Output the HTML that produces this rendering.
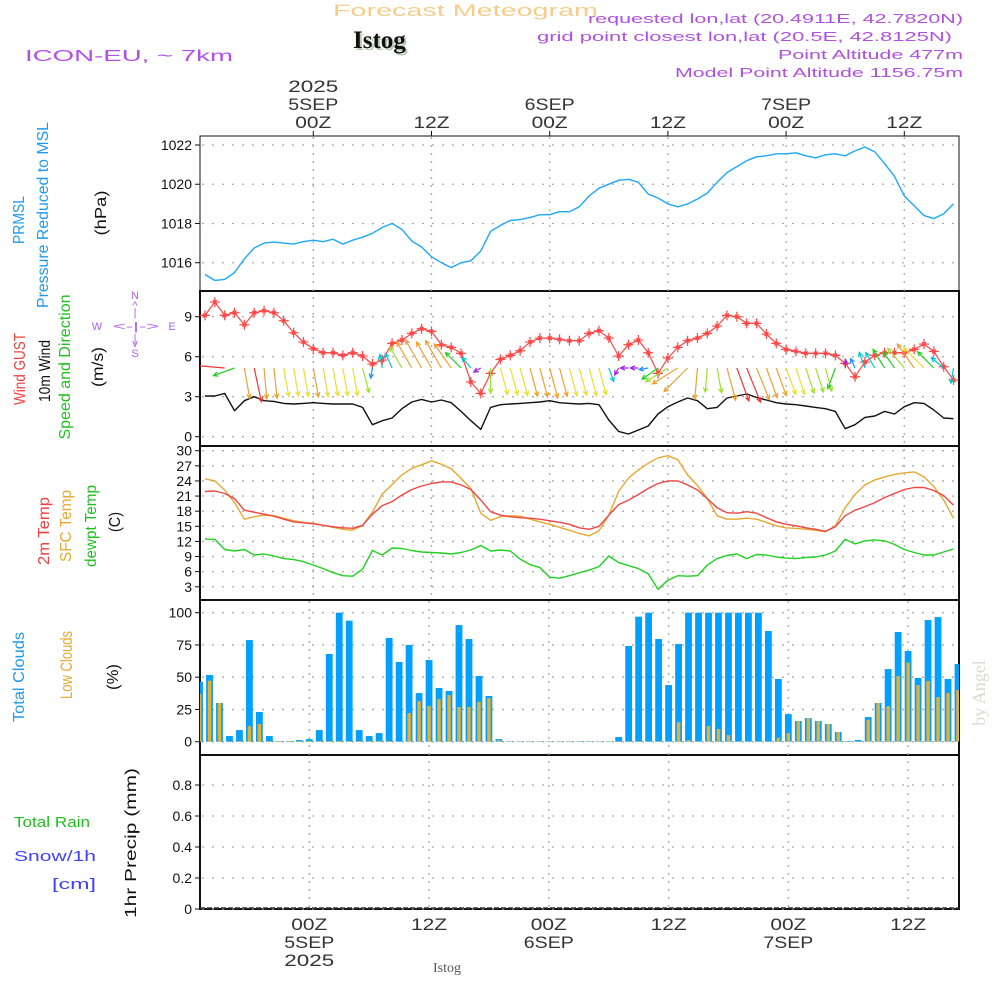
<!DOCTYPE html>
<html><head><meta charset="utf-8">
<style>
html,body{margin:0;padding:0;background:#fff;width:1000px;height:1000px;overflow:hidden}
svg{display:block}
text{font-family:"Liberation Sans",sans-serif}
.nar{font-family:"Liberation Sans Narrow","Liberation Sans",sans-serif}
</style></head>
<body>
<svg id="chart" xmlns="http://www.w3.org/2000/svg" width="1000" height="1000" viewBox="0 0 1000 1000">
<defs>
<clipPath id="clipU"><rect x="200" y="136" width="759" height="465"/></clipPath>
<clipPath id="clipL"><rect x="200" y="600" width="759" height="310"/></clipPath>
</defs>
<text x="333" y="16" font-size="17" fill="#f5cd8c" textLength="265" lengthAdjust="spacingAndGlyphs">Forecast Meteogram</text>
<text x="355" y="50" font-size="25" font-weight="bold" fill="#b9cbb4" style="font-family:'Liberation Serif',serif">Istog</text>
<text x="353" y="48" font-size="25" font-weight="bold" fill="#111" style="font-family:'Liberation Serif',serif">Istog</text>
<text x="25" y="61" font-size="16" fill="#b050e8" textLength="208" lengthAdjust="spacingAndGlyphs">ICON-EU, ~ 7km</text>
<g fill="#b050e0" font-size="13" text-anchor="end">
<text x="963" y="23" textLength="375" lengthAdjust="spacingAndGlyphs">requested lon,lat (20.4911E, 42.7820N)</text>
<text x="952" y="41" textLength="415" lengthAdjust="spacingAndGlyphs">grid point closest lon,lat (20.5E, 42.8125N)</text>
<text x="963" y="59" textLength="185" lengthAdjust="spacingAndGlyphs">Point Altitude 477m</text>
<text x="963" y="77" textLength="288" lengthAdjust="spacingAndGlyphs">Model Point Altitude 1156.75m</text>
</g>
<g id="frames"></g>
<g id="plots"></g>
<g font-size="16" class="nar">
<text transform="translate(24,220) rotate(-90)" text-anchor="middle" fill="#1e9bf0" textLength="48" lengthAdjust="spacingAndGlyphs">PRMSL</text>
<text transform="translate(48,215) rotate(-90)" text-anchor="middle" fill="#1e9bf0" textLength="186" lengthAdjust="spacingAndGlyphs">Pressure Reduced to MSL</text>
<text transform="translate(106,213) rotate(-90)" text-anchor="middle" fill="#111" textLength="45" lengthAdjust="spacingAndGlyphs">(hPa)</text>
<text transform="translate(25,369) rotate(-90)" text-anchor="middle" fill="#f04040" textLength="72" lengthAdjust="spacingAndGlyphs">Wind GUST</text>
<text transform="translate(50,371) rotate(-90)" text-anchor="middle" fill="#111" textLength="62" lengthAdjust="spacingAndGlyphs">10m Wind</text>
<text transform="translate(70,367) rotate(-90)" text-anchor="middle" fill="#20c020" textLength="145" lengthAdjust="spacingAndGlyphs">Speed and Direction</text>
<text transform="translate(103,367) rotate(-90)" text-anchor="middle" fill="#111" textLength="40" lengthAdjust="spacingAndGlyphs">(m/s)</text>
<text transform="translate(49,531) rotate(-90)" text-anchor="middle" fill="#f04040" textLength="68" lengthAdjust="spacingAndGlyphs">2m Temp</text>
<text transform="translate(71,526) rotate(-90)" text-anchor="middle" fill="#e8a830" textLength="72" lengthAdjust="spacingAndGlyphs">SFC Temp</text>
<text transform="translate(96,526) rotate(-90)" text-anchor="middle" fill="#20c020" textLength="82" lengthAdjust="spacingAndGlyphs">dewpt Temp</text>
<text transform="translate(120,522) rotate(-90)" text-anchor="middle" fill="#111" textLength="20" lengthAdjust="spacingAndGlyphs">(C)</text>
<text transform="translate(24,677) rotate(-90)" text-anchor="middle" fill="#1e9bf0" textLength="90" lengthAdjust="spacingAndGlyphs">Total Clouds</text>
<text transform="translate(72,665) rotate(-90)" text-anchor="middle" fill="#e8a830" font-size="17" textLength="68" lengthAdjust="spacingAndGlyphs">Low Clouds</text>
<text transform="translate(118,677) rotate(-90)" text-anchor="middle" fill="#111" textLength="26" lengthAdjust="spacingAndGlyphs">(%)</text>
<text transform="translate(136,843) rotate(-90)" text-anchor="middle" fill="#111" textLength="150" lengthAdjust="spacingAndGlyphs">1hr Precip (mm)</text>
</g>
<text x="14" y="827" font-size="15" fill="#20c020" textLength="76" lengthAdjust="spacingAndGlyphs">Total  Rain</text>
<text x="14" y="861" font-size="15" fill="#4040ff" textLength="82" lengthAdjust="spacingAndGlyphs">Snow/1h</text>
<text x="52" y="889" font-size="15" fill="#4040ff" textLength="44" lengthAdjust="spacingAndGlyphs">[cm]</text>
<g fill="#b060f0" font-size="11" text-anchor="middle">
<text x="135" y="299">N</text><text x="135" y="309">^</text><text x="135" y="316">|</text>
<text x="97" y="330">W</text><text x="136" y="330" textLength="46" lengthAdjust="spacingAndGlyphs">&lt;-|-&gt;</text><text x="172" y="330">E</text>
<text x="135" y="342">|</text><text x="135" y="347">v</text><text x="135" y="357">S</text>
</g>
<text transform="translate(985,693) rotate(-90)" text-anchor="middle" font-size="18" fill="#d4ddd0" style="font-family:'Liberation Serif',serif">by Angel</text>
<text x="447" y="972" text-anchor="middle" font-size="14" fill="#555" style="font-family:'Liberation Serif',serif">Istog</text>
</svg>
<script>
const pressure=[1015.4,1015.1,1015.15,1015.5,1016.2,1016.75,1017.0,1017.05,1017.0,1016.95,1017.07,1017.15,1017.07,1017.2,1016.95,1017.15,1017.3,1017.5,1017.8,1018.0,1017.7,1017.1,1016.8,1016.3,1016.0,1015.75,1016.0,1016.1,1016.6,1017.6,1017.9,1018.15,1018.2,1018.3,1018.45,1018.45,1018.6,1018.6,1018.85,1019.4,1019.8,1020.0,1020.2,1020.25,1020.1,1019.5,1019.3,1019.0,1018.85,1019.0,1019.25,1019.55,1020.1,1020.6,1020.9,1021.2,1021.4,1021.45,1021.55,1021.55,1021.6,1021.45,1021.35,1021.5,1021.55,1021.45,1021.7,1021.9,1021.65,1021.05,1020.4,1019.4,1018.9,1018.4,1018.25,1018.5,1019.0];
const gust=[9.1,10.1,9.1,9.3,8.4,9.3,9.45,9.3,8.7,7.8,7.1,6.6,6.3,6.3,6.1,6.3,6.05,5.45,5.75,7.0,7.25,7.75,8.1,7.9,6.9,6.7,6.25,4.1,3.25,4.75,5.8,6.1,6.45,7.1,7.4,7.4,7.3,7.2,7.2,7.75,7.95,7.4,6.05,6.9,7.25,6.3,4.75,5.9,6.7,7.2,7.4,7.75,8.3,9.1,9.0,8.5,8.5,7.7,7.0,6.55,6.4,6.25,6.25,6.25,6.1,5.5,4.5,5.6,6.1,6.3,6.3,6.3,6.55,6.95,6.4,5.25,4.25];
const wind10m=[3.05,3.05,3.25,1.95,2.7,3.0,2.7,2.65,2.5,2.45,2.5,2.55,2.5,2.45,2.45,2.45,2.2,0.9,1.2,1.4,2.1,2.6,2.8,2.6,2.75,2.55,1.9,1.2,0.55,2.2,2.4,2.45,2.5,2.55,2.6,2.7,2.55,2.5,2.45,2.5,2.4,1.25,0.4,0.2,0.5,0.8,1.7,2.25,2.6,2.9,2.7,2.1,2.2,2.9,3.05,3.2,2.95,2.75,2.55,2.45,2.4,2.3,2.2,2.1,1.9,0.6,0.9,1.45,1.55,1.9,1.7,2.25,2.55,2.5,2.0,1.4,1.35];
const windDir=[null,null,95,70,350,348,355,354,350,350,350,350,350,350,350,350,345,10,170,155,150,150,150,150,150,145,135,140,60,0,345,345,345,345,345,345,345,345,345,345,345,340,30,90,90,80,55,58,58,45,5,5,350,345,340,338,338,340,340,340,342,342,342,345,20,185,155,160,150,148,145,140,145,135,135,130,10];
const temp2m=[21.9,22.0,21.5,20.5,18.2,17.8,17.4,17.0,16.4,15.9,15.7,15.5,15.2,14.9,14.7,14.6,15.2,17.4,19.1,19.9,21.2,22.3,23.0,23.5,23.8,23.8,23.2,22.3,20.2,17.9,17.2,16.9,16.7,16.6,16.4,16.1,15.8,15.4,14.7,14.4,15.0,17.2,19.3,20.2,21.3,22.5,23.5,24.0,24.0,23.2,22.2,20.5,18.7,17.7,17.6,17.9,17.6,16.7,15.9,15.4,15.1,14.7,14.4,14.0,14.9,17.1,18.2,18.9,19.7,20.7,21.5,22.3,22.7,22.7,22.1,21.1,19.2];
const tempSfc=[24.4,24.0,22.2,19.7,16.4,16.9,17.2,17.1,16.6,16.1,15.8,15.6,15.2,14.8,14.4,14.2,15.2,17.8,21.4,23.3,25.2,26.5,27.2,28.0,27.3,26.4,24.5,22.5,17.6,16.2,16.9,17.1,17.0,16.4,15.9,15.4,14.8,14.2,13.6,13.1,14.1,17.2,21.9,24.6,26.2,27.5,28.6,29.0,28.2,25.2,23.1,20.5,17.1,16.4,16.4,16.6,16.4,15.8,15.1,14.7,14.6,14.4,14.2,13.9,15.1,18.7,21.3,23.2,24.2,24.8,25.3,25.6,25.8,24.8,22.9,20.2,16.6];
const dewpt=[12.5,12.4,10.4,10.1,10.4,9.3,9.5,9.1,8.6,8.4,8.0,7.3,6.6,5.8,5.2,5.1,6.5,10.2,9.3,10.7,10.6,10.2,9.9,9.8,9.7,9.5,9.8,10.3,11.2,10.1,10.3,10.1,8.5,7.4,6.8,4.9,4.7,5.2,5.8,6.3,7.0,9.1,7.8,7.2,6.6,5.6,2.5,4.3,5.2,5.1,5.2,7.3,8.6,9.2,9.5,8.6,9.4,9.3,8.9,8.7,8.6,8.8,8.9,9.3,10.1,12.4,11.5,12.1,12.3,12.1,11.4,10.4,9.8,9.3,9.3,9.9,10.5];
const cloudTotal=[46.5,51.7,30,4.4,9,78.8,23,4.4,0.5,0.5,1.3,2,9,68,100,93.8,9,4.4,6.7,80.4,61.8,75,37.7,63.3,41.6,39.3,90.4,79.6,50.9,35.4,2,0.3,0.3,0.3,0.3,0.3,0.3,0.3,0.3,0.3,0.3,0.3,3.6,74.2,96.9,100,79.6,43.9,75.7,100,100,100,100,100,100,100,100,85.8,48.6,21.4,16,18.3,16,13.7,7.5,0.5,1.3,19.1,30,56.3,85,70.3,49.4,94.3,96.6,48.6,60.2];
const cloudLow=[37,47.3,30,0,0.5,12,13.7,0.5,0.5,0.5,0.5,0.5,0.5,0.5,0.5,0.5,0.5,0.5,0.5,0.5,0,22.2,31.5,27.6,33,36.2,26.9,26.9,31,33.9,1.3,0.3,0.3,0.3,0.3,0.3,0.3,0.3,0.3,0.3,0.3,0.3,0.3,0.3,0.3,0.3,0.3,0.3,15.2,1.3,0.3,12.1,9.8,5.2,0.3,0.3,0.3,0.3,3.1,6.7,16,18.3,16,13.7,7.5,0.3,0,17,30,27.6,50.9,61.2,43.9,47,34.6,37.7,40];
const firstHour=-11;
const pressTicks=[1016,1018,1020,1022];
const windTicks=[0,3,6,9];
const tempTicks=[3,6,9,12,15,18,21,24,27,30];
const cloudTicks=[0,25,50,75,100];
const precipTicks=[0,0.2,0.4,0.6,0.8];
const timeTickHours=[0,12,24,36,48,60];
const timeTickLabels=['00Z','12Z','00Z','12Z','00Z','12Z'];
const dateLabels=['5SEP','','6SEP','','7SEP',''];

const NS='http://www.w3.org/2000/svg';
const xU=h=>313.3+h*9.85;
const xL=h=>309.3+h*9.98;
const yP=p=>145+(1022-p)*19.62;
const yW=v=>436.7-v*13.33;
const yT=t=>450.7+(30-t)*5.04;
const yC=c=>741.7-c*1.29;
const yR=r=>909-r*155;
function mk(tag,attrs,parent){const e=document.createElementNS(NS,tag);for(const k in attrs)e.setAttribute(k,attrs[k]);parent.appendChild(e);return e;}
const frames=document.getElementById('frames');
const plots=document.getElementById('plots');

const panels=[[136,291,'pressure-panel'],[291,446,'wind-panel'],[446,600,'temp-panel'],[600,755,'cloud-panel'],[755,909,'precip-panel']];
panels.forEach((p,i)=>{
  const r=mk('rect',{x:200,y:p[0],width:759,height:p[1]-p[0],fill:'none',stroke:'#111','stroke-width':i===0?1:2},frames);
  
  
});
function yAxis(ticks,yf,fmt,name){
  ticks.forEach(t=>{
    const y=yf(t);
    const g=mk('line',{x1:202,x2:958,y1:y,y2:y,stroke:'#aaa','stroke-width':1.3,'stroke-dasharray':'2,8'},frames);
    
    
    const tk=mk('line',{x1:195,x2:200,y1:y,y2:y,stroke:'#111','stroke-width':1},frames);
    
    
    const tx=mk('text',{x:192,y:y+5,'text-anchor':'end','font-size':14,fill:'#111',class:'nar'},frames);
    
    
    tx.textContent=fmt(t);
  });
}
yAxis(pressTicks,yP,String,'pressure-y');
yAxis(windTicks,yW,String,'wind-y');
yAxis(tempTicks,yT,String,'temp-y');
yAxis(cloudTicks,yC,String,'cloud-y');
yAxis(precipTicks,yR,t=>t===0?'0':t.toFixed(1),'precip-y');
timeTickHours.forEach((h,i)=>{
  const xu=xU(h), xl=xL(h);
  const g1=mk('line',{x1:xu,x2:xu,y1:137,y2:600,stroke:'#aaa','stroke-width':1.3,'stroke-dasharray':'2,6'},frames);
  
  
  const g2=mk('line',{x1:xl,x2:xl,y1:601,y2:908,stroke:'#aaa','stroke-width':1.3,'stroke-dasharray':'2,6'},frames);
  
  
  const t1=mk('line',{x1:xu,x2:xu,y1:131,y2:136,stroke:'#111'},frames);
  
  
  const lt=mk('text',{x:xu,y:128,'text-anchor':'middle','font-size':17,fill:'#333',textLength:36,lengthAdjust:'spacingAndGlyphs'},frames);
  
  
  lt.textContent=timeTickLabels[i];
  const lb=mk('text',{x:xl,y:930,'text-anchor':'middle','font-size':17,fill:'#333',textLength:36,lengthAdjust:'spacingAndGlyphs'},frames);
  
  
  lb.textContent=timeTickLabels[i];
  if(dateLabels[i]){
    const d1=mk('text',{x:xu,y:110,'text-anchor':'middle','font-size':17,fill:'#333',textLength:50,lengthAdjust:'spacingAndGlyphs'},frames);
    
    
    d1.textContent=dateLabels[i];
    const d2=mk('text',{x:xl,y:948,'text-anchor':'middle','font-size':17,fill:'#333',textLength:50,lengthAdjust:'spacingAndGlyphs'},frames);
    
    
    d2.textContent=dateLabels[i];
  }
  if(i===0){
    const y1=mk('text',{x:xu,y:92,'text-anchor':'middle','font-size':17,fill:'#333',textLength:50,lengthAdjust:'spacingAndGlyphs'},frames);
    
    
    y1.textContent='2025';
    const y2=mk('text',{x:xl,y:966,'text-anchor':'middle','font-size':17,fill:'#333',textLength:50,lengthAdjust:'spacingAndGlyphs'},frames);
    
    
    y2.textContent='2025';
  }
});

const gU=mk('g',{'clip-path':'url(#clipU)'},plots);


const gL=mk('g',{'clip-path':'url(#clipL)'},plots);



function line(arr,yf,color,name,w){
  const pts=arr.map((v,i)=>xU(i+firstHour).toFixed(1)+','+yf(v).toFixed(1)).join(' ');
  const pl=mk('polyline',{points:pts,fill:'none',stroke:color,'stroke-width':w||1.4,'stroke-linejoin':'round'},gU);
  
  
}
line(pressure,yP,'#1ea7ff','pressure-line');
line(wind10m,yW,'#111','wind-speed-line');
line(gust,yW,'#ff4545','gust-line',1.2);
gust.forEach((v,i)=>{
  const x=xU(i+firstHour), y=yW(v);
  const m=mk('path',{d:`M${x-5},${y}H${x+5}M${x},${y-5}V${y+5}M${x-2},${y-2}L${x+2},${y+2}M${x-2},${y+2}L${x+2},${y-2}`,stroke:'#ff4545','stroke-width':1.2,fill:'none'},gU);
  
  
});
function spdColor(s){
  if(s<0.7)return '#a020f0';
  if(s<1.1)return '#1e90ff';
  if(s<1.6)return '#00c8d0';
  if(s<2.05)return '#20d020';
  if(s<2.35)return '#a0e030';
  if(s<2.55)return '#e8e030';
  if(s<3.0)return '#f0a030';
  return '#f03535';
}
windDir.forEach((d,i)=>{
  if(d===null)return;
  const s=wind10m[i];
  const len=Math.max(8,s*11.5);
  const rad=d*Math.PI/180;
  const x0=xU(i+firstHour), y0=368;
  const x1=x0-Math.sin(rad)*len, y1=y0+Math.cos(rad)*len;
  const ang=Math.atan2(y1-y0,x1-x0);
  const h=5;
  const ax=x1-h*Math.cos(ang-0.45), ay=y1-h*Math.sin(ang-0.45);
  const bx=x1-h*Math.cos(ang+0.45), by=y1-h*Math.sin(ang+0.45);
  const a=mk('path',{d:`M${x0},${y0}L${x1},${y1}M${ax},${ay}L${x1},${y1}L${bx},${by}`,stroke:spdColor(s),'stroke-width':1.2,fill:'none'},gU);
  
  
});
line(tempSfc,yT,'#e8a830','sfc-temp-line');
line(temp2m,yT,'#f04545','temp-2m-line');
line(dewpt,yT,'#20d020','dewpoint-line');

cloudTotal.forEach((v,i)=>{
  const x=xL(i+firstHour);
  const b=mk('rect',{x:x-3.4,y:yC(v),width:6.8,height:Math.max(0,yC(0)-yC(v)),fill:'#00a0ff'},gL);
  
  
  const l=cloudLow[i];
  const c=mk('rect',{x:x-1.7,y:yC(l),width:3.4,height:Math.max(0,yC(0)-yC(l)),fill:'#e8b030'},gL);
  
  
});
const base=mk('line',{x1:200,x2:959,y1:908,y2:908,stroke:'#333','stroke-width':1.5,'stroke-dasharray':'5,2'},gL);


</script>
</body></html>
